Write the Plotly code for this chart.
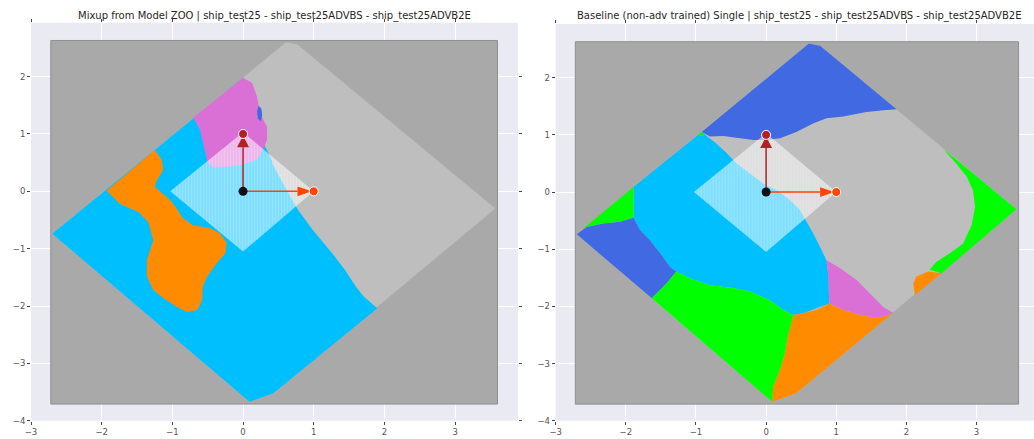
import plotly.graph_objects as go

# ---------------------------------------------------------------- data
TITLES = [
    "Mixup from Model ZOO | ship_test25 - ship_test25ADVBS - ship_test25ADVB2E",
    "Baseline (non-adv trained) Single | ship_test25 - ship_test25ADVBS - ship_test25ADVB2E",
]

# evaluated plane: bounding box and the sampled grid outline
BOX_X = [-2.72, 3.60, 3.60, -2.72]
BOX_Y = [-3.71, -3.71, 2.63, 2.63]
GRID_X = [-2.70, 0.61, 0.77, 3.57, 0.43, 0.09]
GRID_Y = [-0.74, 2.60, 2.56, -0.30, -3.52, -3.67]

# simplex spanned by the three models
HULL_X = [-1.03, 0.0, 1.0, 0.0]
HULL_Y = [0.0, 1.03, 0.0, -1.05]

# model points and direction vectors
PT_X = [0.0, 1.0, 0.0]
PT_Y = [0.0, 0.0, 1.0]
PT_COLORS = ["#111111", "#FF4500", "#B22222"]
VEC_X = [1.0, 0.0]
VEC_Y = [0.0, 1.0]
VEC_COLORS = ["#FF4500", "#B22222"]

CYAN, ORANGE, ORCHID, BLUE = "#00BFFF", "#FF8C00", "#DA70D6", "#4169E1"
SILVER, LIME, BGGRAY = "#BEBEBE", "#00FF00", "#A9A9A9"

# ---- decision regions, left panel (remaining area: silver)
L_CYAN_X = [-2.70, 0.00, 0.10, 0.25, 0.31, 0.37, 0.44, 0.59, 0.78, 0.99,
            1.26, 1.44, 1.60, 1.71, 1.90, 0.43, 0.09]
L_CYAN_Y = [-0.74, 1.98, 1.50, 1.00, 0.78, 0.64, 0.43, 0.08, -0.33, -0.68,
            -1.08, -1.37, -1.67, -1.84, -2.04, -3.52, -3.67]

L_ORCHID_X = [-0.71, 0.00, 0.13, 0.20, 0.24, 0.34, 0.34, 0.28, 0.20, -0.04, -0.23,
              -0.42, -0.50, -0.54, -0.61, -0.68]
L_ORCHID_Y = [1.28, 1.98, 1.89, 1.64, 1.36, 1.12, 0.90, 0.72, 0.55, 0.46, 0.43,
              0.41, 0.50, 0.72, 1.07, 1.24]

L_BLUE_X = [0.22, 0.26, 0.27, 0.25, 0.21, 0.20]
L_BLUE_Y = [1.49, 1.44, 1.32, 1.22, 1.27, 1.40]

L_ORANGE_X = [-1.93, -1.25, -1.15, -1.13, -1.22, -1.25, -1.15, -1.03, -0.94, -0.85,
              -0.71, -0.47, -0.33, -0.23, -0.25, -0.37, -0.51, -0.57, -0.58, -0.65,
              -0.79, -0.93, -1.13, -1.27, -1.36, -1.36, -1.27, -1.34, -1.48, -1.74]
L_ORANGE_Y = [0.01, 0.72, 0.55, 0.37, 0.19, 0.08, -0.03, -0.15, -0.30, -0.47,
              -0.59, -0.64, -0.73, -0.90, -1.08, -1.25, -1.49, -1.67, -1.90, -2.07,
              -2.11, -2.02, -1.86, -1.72, -1.49, -1.20, -0.85, -0.54, -0.36, -0.22]

# ---- decision regions, right panel (remaining area: silver)
R_BLUE_TOP_X = [-0.92, 0.61, 0.77, 1.86, 1.67, 1.43, 1.10, 0.86, 0.67, 0.43, 0.20,
                0.00, -0.18, -0.37, -0.61, -0.80]
R_BLUE_TOP_Y = [1.05, 2.60, 2.56, 1.45, 1.43, 1.40, 1.32, 1.29, 1.20, 1.05, 0.94,
                0.91, 0.91, 0.94, 0.98, 0.97]

R_CYAN_X = [-1.89, -0.92, -0.71, -0.56, -0.42, -0.23, -0.04, 0.15, 0.34, 0.48, 0.58,
            0.67, 0.77, 0.86, 0.89, 0.90, 0.53, 0.39, 0.24, 0.05, -0.23, -0.47,
            -0.80, -1.09, -1.28, -1.37, -1.51, -1.66, -1.80, -1.89, -1.89]
R_CYAN_Y = [0.09, 1.05, 0.85, 0.68, 0.50, 0.33, 0.15, 0.03, -0.14, -0.31, -0.52,
            -0.72, -0.96, -1.19, -1.48, -1.95, -2.12, -2.15, -2.06, -1.89, -1.74, -1.68,
            -1.63, -1.51, -1.39, -1.31, -1.07, -0.84, -0.66, -0.45, -0.19]

R_LIME_TL_X = [-2.62, -1.89, -1.89, -2.08, -2.32, -2.56]
R_LIME_TL_Y = [-0.65, 0.09, -0.45, -0.52, -0.55, -0.61]

R_LIME_TIP_X = [-0.98, -0.92, -0.88]
R_LIME_TIP_Y = [0.99, 1.05, 0.98]

R_BLUE_LL_X = [-2.70, -2.56, -2.32, -2.08, -1.89, -1.80, -1.66, -1.51, -1.37, -1.28,
               -1.42, -1.56, -1.63]
R_BLUE_LL_Y = [-0.74, -0.61, -0.55, -0.52, -0.45, -0.66, -0.84, -1.07, -1.31, -1.39,
               -1.60, -1.77, -1.86]

R_LIME_BL_X = [-1.63, -1.56, -1.42, -1.28, -1.09, -0.80, -0.47, -0.23, 0.05, 0.24,
               0.39, 0.31, 0.27, 0.20, 0.10, 0.09]
R_LIME_BL_Y = [-1.86, -1.77, -1.60, -1.39, -1.51, -1.63, -1.68, -1.74, -1.89, -2.06,
               -2.15, -2.53, -2.82, -3.11, -3.41, -3.67]

R_ORANGE_X = [0.39, 0.53, 0.72, 0.90, 1.10, 1.34, 1.53, 1.67, 1.81, 0.43, 0.09, 0.10,
              0.20, 0.27, 0.31]
R_ORANGE_Y = [-2.15, -2.12, -2.06, -1.95, -2.06, -2.15, -2.19, -2.18, -2.11, -3.52,
              -3.67, -3.41, -3.11, -2.82, -2.53]

R_ORCHID_X = [0.86, 1.05, 1.29, 1.48, 1.67, 1.81, 1.67, 1.53, 1.34, 1.10, 0.90, 0.89]
R_ORCHID_Y = [-1.19, -1.33, -1.54, -1.77, -2.01, -2.11, -2.18, -2.19, -2.15, -2.06,
              -1.95, -1.48]

R_LIME_R_X = [2.52, 2.71, 2.86, 2.95, 2.98, 2.93, 2.81, 2.62, 2.43, 2.33, 2.50, 3.57]
R_LIME_R_Y = [0.76, 0.50, 0.27, 0.03, -0.26, -0.58, -0.90, -1.07, -1.22, -1.36,
              -1.42, -0.30]

R_ORANGE_R_X = [2.12, 2.10, 2.14, 2.31, 2.50]
R_ORANGE_R_Y = [-1.80, -1.60, -1.48, -1.39, -1.42]

PANELS = [
    [
        (CYAN, L_CYAN_X, L_CYAN_Y),
        (ORCHID, L_ORCHID_X, L_ORCHID_Y),
        (BLUE, L_BLUE_X, L_BLUE_Y),
        (ORANGE, L_ORANGE_X, L_ORANGE_Y),
    ],
    [
        (BLUE, R_BLUE_TOP_X, R_BLUE_TOP_Y),
        (CYAN, R_CYAN_X, R_CYAN_Y),
        (LIME, R_LIME_TL_X, R_LIME_TL_Y),
        (LIME, R_LIME_TIP_X, R_LIME_TIP_Y),
        (BLUE, R_BLUE_LL_X, R_BLUE_LL_Y),
        (LIME, R_LIME_BL_X, R_LIME_BL_Y),
        (ORANGE, R_ORANGE_X, R_ORANGE_Y),
        (ORCHID, R_ORCHID_X, R_ORCHID_Y),
        (LIME, R_LIME_R_X, R_LIME_R_Y),
        (ORANGE, R_ORANGE_R_X, R_ORANGE_R_Y),
    ],
]

# ---------------------------------------------------------------- figure
W, H = 1034, 439
fig = go.Figure()


def poly(x, y, color, xa, ya, line=None, **kw):
    fig.add_trace(go.Scatter(
        x=list(x) + [x[0]], y=list(y) + [y[0]], mode="lines", fill="toself",
        fillcolor=color, line=line or dict(width=0, color=color),
        hoverinfo="skip", showlegend=False, xaxis=xa, yaxis=ya, **kw))


HEAD_START, HEAD_TIP, HEAD_HALF = 0.77, 0.97, 0.085

for i, regions in enumerate(PANELS):
    xa, ya = ("x", "y") if i == 0 else ("x2", "y2")
    poly(BOX_X, BOX_Y, BGGRAY, xa, ya, line=dict(width=1, color="#8e8e8e"))
    poly(GRID_X, GRID_Y, SILVER, xa, ya)
    for color, rx, ry in regions:
        poly(rx, ry, color, xa, ya)
    # hatched simplex
    poly(HULL_X, HULL_Y, "rgba(255,255,255,0.5)", xa, ya,
         fillpattern=dict(shape="|", size=3, solidity=0.25,
                          fgcolor="rgba(255,255,255,0.45)",
                          bgcolor="rgba(255,255,255,0.5)"))
    # direction arrows
    ox, oy = PT_X[0], PT_Y[0]
    for vx, vy, c in zip(VEC_X, VEC_Y, VEC_COLORS):
        bx, by = ox + HEAD_START * vx, oy + HEAD_START * vy
        tx, ty = ox + HEAD_TIP * vx, oy + HEAD_TIP * vy
        px, py = -vy, vx
        fig.add_trace(go.Scatter(x=[ox, bx], y=[oy, by], mode="lines",
                                 line=dict(color=c, width=1.5), hoverinfo="skip",
                                 showlegend=False, xaxis=xa, yaxis=ya))
        poly([tx, bx + HEAD_HALF * px, bx - HEAD_HALF * px],
             [ty, by + HEAD_HALF * py, by - HEAD_HALF * py], c, xa, ya)
    fig.add_trace(go.Scatter(
        x=PT_X, y=PT_Y, mode="markers",
        marker=dict(size=9, color=PT_COLORS,
                    line=dict(width=[0, 1, 1], color="white")),
        hoverinfo="skip", showlegend=False, xaxis=xa, yaxis=ya))

axis_common = dict(
    showgrid=True, gridcolor="white", gridwidth=1, zeroline=False,
    showline=False, ticks="outside", ticklen=3, tickwidth=1, tickcolor="#444444",
    mirror="ticks", dtick=1, automargin=False,
    tickfont=dict(family="DejaVu Sans", size=8.5, color="#555555"),
)

x1d = [31 / W, 518 / W]
x2d = [555.7 / W, 1.0]
y1d = [(H - 420.7) / H, (H - 22.7) / H]
y2d = [(H - 420.7) / H, (H - 24.0) / H]

fig.update_layout(
    width=W, height=H, margin=dict(l=0, r=0, t=0, b=0, autoexpand=False),
    paper_bgcolor="white", plot_bgcolor="#EAEAF2",
    xaxis=dict(domain=x1d, range=[-3, 3.89], anchor="y", tick0=-3, **axis_common),
    yaxis=dict(domain=y1d, range=[-4, 2.94], anchor="x", tick0=-4, **axis_common),
    xaxis2=dict(domain=x2d, range=[-3, 3.82], anchor="y2", tick0=-3, **axis_common),
    yaxis2=dict(domain=y2d, range=[-4, 2.94], anchor="x2", tick0=-4, **axis_common),
)

title_centers = [(31 + 518) / 2 / W, (555.7 + 1042.5) / 2 / W]
for t, cx in zip(TITLES, title_centers):
    fig.add_annotation(text=t, x=cx, y=(H - 15.5) / H, xref="paper", yref="paper",
                       showarrow=False, xanchor="center", yanchor="middle",
                       font=dict(family="DejaVu Sans", size=10, color="#262626"))

fig.write_html("out.html")
